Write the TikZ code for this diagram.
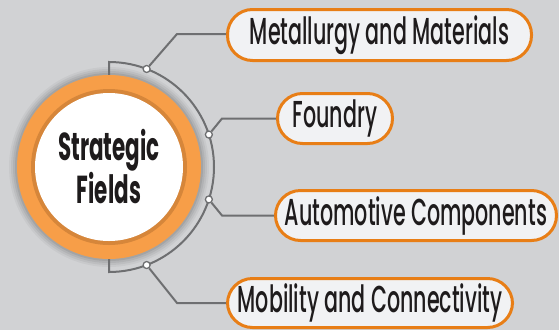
\documentclass[tikz,border=0pt]{standalone}
\usepackage{fontspec}
\setmainfont{Poppins}[FakeStretch=0.55,UprightFont=* Medium]
\newfontfamily\boldf{Poppins}[FakeStretch=0.55,UprightFont=* Bold]
\usetikzlibrary{calc}
\definecolor{bg}{RGB}{209,210,212}
\definecolor{lineg}{RGB}{110,111,113}
\definecolor{orlight}{RGB}{247,158,72}
\definecolor{ordark}{RGB}{214,134,58}
\definecolor{orbord}{RGB}{232,126,22}
\definecolor{boxfill}{RGB}{241,242,244}
\definecolor{txt}{RGB}{30,27,28}
\tikzset{
  fieldbox/.style={draw=orbord, line width=3pt, fill=boxfill, rounded corners=25pt,
    inner sep=0pt, text=txt, font=\fontsize{37.5}{40}\selectfont, anchor=center},
  dotnode/.style={circle, draw=lineg, fill=white, line width=1.3pt, minimum size=7pt, inner sep=0pt},
  conn/.style={draw=lineg, line width=2pt},
}
\begin{document}
\begin{tikzpicture}[x=1pt,y=-1pt]
\useasboundingbox[fill=bg] (0,0) rectangle (559,330);
\coordinate (c) at (109,167);
% shadow
\foreach \r/\o in {100/0.04,98/0.05,96/0.06,94/0.08}{
  \fill[black,opacity=\o] (c) circle[radius=\r];}
% arc bracket
\draw[conn] ($(c)+(0,-92)$) -- ($(c)+(0,-105)$) arc[start angle=-90,end angle=90,radius=105] -- ($(c)+(0,92)$);
% central circle
\fill[orlight] (c) circle[radius=92];
\fill[ordark] (c) circle[radius=78];
\node[circle, fill=white, minimum size=148pt, inner sep=0pt, align=center, text=txt,
  font=\boldf\fontsize{39}{32}\selectfont] (core) at (c) {Strategic\\Fields};
% dots
\node[dotnode] (d1) at ($(c)+(-69:105)$) {};
\node[dotnode] (d2) at ($(c)+(-18:105)$) {};
\node[dotnode] (d3) at ($(c)+(18:105)$) {};
\node[dotnode] (d4) at ($(c)+(69:105)$) {};
% boxes
\node[fieldbox, minimum width=304pt, minimum height=51pt] (b1) at (379.5,35) {Metallurgy and Materials};
\node[fieldbox, minimum width=115pt, minimum height=50pt] (b2) at (335,118.5) {Foundry};
\node[fieldbox, minimum width=281pt, minimum height=50pt] (b3) at (416,215.5) {Automotive Components};
\node[fieldbox, minimum width=285pt, minimum height=49pt] (b4) at (370,303) {Mobility and Connectivity};
% bend points
\coordinate (k1) at (177,34);
\coordinate (k2) at (222,118.5);
\coordinate (k3) at (222,215.5);
\coordinate (k4) at (177,303);
\draw[conn] (d1) -- (k1) -- (k1 -| b1.west);
\draw[conn] (d2) -- (k2) -- (k2 -| b2.west);
\draw[conn] (d3) -- (k3) -- (k3 -| b3.west);
\draw[conn] (d4) -- (k4) -- (k4 -| b4.west);
\end{tikzpicture}
\end{document}
